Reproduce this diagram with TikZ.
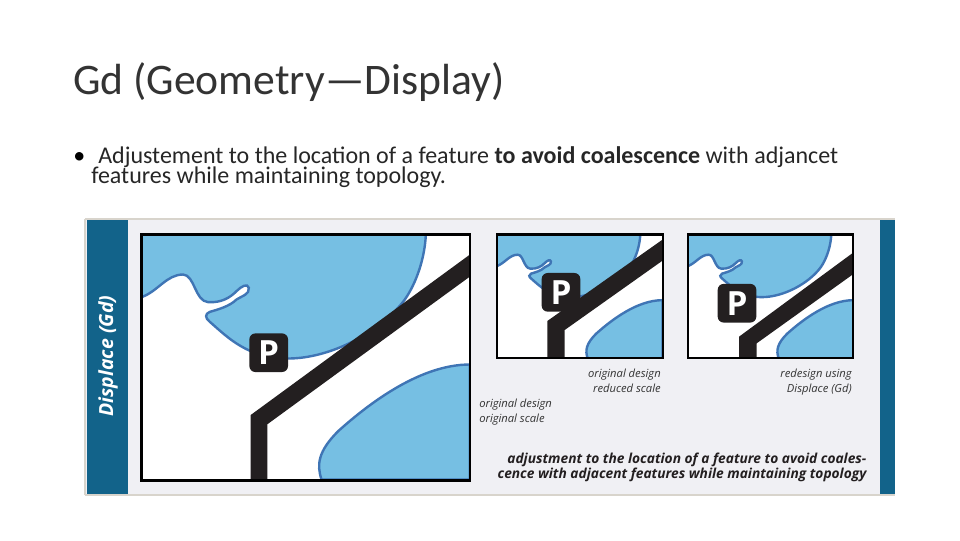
\documentclass[tikz,border=0pt]{standalone}
\usepackage{fontspec}
\setmainfont{Carlito}
\newfontfamily\figfont{Open Sans}
\usetikzlibrary{positioning}
\definecolor{waterblue}{HTML}{76BFE3}
\definecolor{coastblue}{HTML}{3F75B5}
\definecolor{barblue}{HTML}{12638A}
\definecolor{panelgrey}{HTML}{F0F0F4}
\definecolor{paneledge}{HTML}{D8D4CC}
\definecolor{roadblack}{HTML}{231F20}
\tikzset{
  water/.style={fill=waterblue,draw=coastblue,line width=1.8pt},
  road/.style={fill=roadblack},
  frame/.style={draw=black,line width=1.6pt},
  pbox/.style={fill=roadblack,rounded corners=4.5pt,minimum size=29pt,inner sep=0pt,
    text=white,font=\figfont\bfseries\fontsize{25}{25}\selectfont},
  note/.style={inner sep=0pt,font=\figfont\itshape\fontsize{8.4}{11.25}\selectfont,text=black!80},
  boldnote/.style={inner sep=0pt,anchor=east,font=\figfont\bfseries\itshape\fontsize{10.3}{11.25}\selectfont,text=roadblack},
}
% water shapes, drawn in a box of 985 by 735 units
\newcommand{\mapwater}[3]{
  \begin{scope}[shift={(#1,#2)},x=#3*.25pt,y=-#3*.25pt]
    \clip (0,0) rectangle (985,735);
    \draw[water] (0,188) .. controls (50,170) and (75,120) .. (125,120)
      .. controls (160,122) and (160,200) .. (200,203)
      .. controls (240,205) and (265,190) .. (285,170)
      .. controls (300,155) and (318,145) .. (322,160)
      .. controls (325,180) and (300,185) .. (285,195)
      .. controls (265,215) and (230,225) .. (205,232)
      .. controls (190,238) and (190,250) .. (205,262)
      .. controls (260,310) and (320,372) .. (440,372)
      .. controls (570,372) and (720,290) .. (790,195)
      .. controls (825,145) and (850,70) .. (853,0)
      -- (0,0) -- cycle;
    \draw[water] (540,735) .. controls (525,690) and (530,650) .. (590,590)
      .. controls (690,500) and (840,390) .. (985,390)
      -- (985,735) -- cycle;
  \end{scope}
}
\begin{document}
\begin{tikzpicture}[x=.75pt,y=-.75pt]
\useasboundingbox (0,0) rectangle (960,540);

\node[anchor=base west,inner sep=0pt,font=\fontsize{32.7}{32.7}\selectfont,text=black!80] (title) at (73,94) {Gd (Geometry—Display)};
\node[anchor=base west,inner sep=0pt,font=\fontsize{18}{18}\selectfont] (bullet) at (73,163) {•};
\node[anchor=base west,inner sep=0pt,font=\fontsize{18}{18}\selectfont,text=black!85] (lineone) at (98,163) {Adjustement to the location of a feature \textbf{to avoid coalescence} with adjancet};
\node[anchor=base west,inner sep=0pt,font=\fontsize{18}{18}\selectfont,text=black!85] (linetwo) at (91,183.5) {features while maintaining topology.};

\fill[panelgrey] (85,219) rectangle (895,495);
\draw[paneledge,line width=1pt] (85,219) -- (895,219);
\draw[paneledge,line width=1pt] (85,495) -- (895,495);
\draw[paneledge,line width=1pt] (85,219) -- (85,495);
\fill[barblue] (87,220) rectangle (128,494);
\fill[barblue] (880,220) rectangle (895,494);
\node[rotate=90,inner sep=0pt,text=white,font=\figfont\bfseries\itshape\fontsize{14.6}{14.6}\selectfont] (barlabel) at (108,356) {Displace (Gd)};

\fill[white] (141.5,234.5) rectangle (470,480.5);
\fill[white] (496.7,234.5) rectangle (662.7,357.7);
\fill[white] (687.7,234.5) rectangle (852.7,357.7);

\mapwater{141.5}{234.5}{1}
\mapwater{496.7}{234.5}{.505}
\mapwater{687.7}{234.5}{.505}

\fill[road] (250.7,415) -- (470,254.5) -- (470,276.5) -- (267.3,424.3) -- (267.3,480) -- (250.7,480) -- cycle;
\fill[road] (547.3,321) -- (662.7,239.5) -- (662.7,260.5) -- (564.7,330) -- (564.7,357.7) -- (547.3,357.7) -- cycle;
\fill[road] (739,336.7) -- (852.7,253) -- (852.7,274.5) -- (756.7,343.3) -- (756.7,357.7) -- (739,357.7) -- cycle;

\draw[frame] (141.5,234.5) rectangle (470,480.5);
\draw[frame] (496.7,234.5) rectangle (662.7,357.7);
\draw[frame] (687.7,234.5) rectangle (852.7,357.7);

\node[pbox] (pbig) at (268.7,352.7) {P};
\node[pbox] (psmall) at (561,292.3) {P};
\node[pbox] (pmoved) at (737,303.2) {P};

\node[note,anchor=north east,align=right] (reduced) at (661,368.5) {original design\\reduced scale};
\node[note,anchor=north east,align=right] (redesign) at (852,368.5) {redesign using\\Displace (Gd)};
\node[note,anchor=north west,align=left] (original) at (479,398.5) {original design\\original scale};
\node[boldnote] (captionone) at (866.7,459.5) {adjustment to the location of a feature to avoid coales-};
\node[boldnote] (captiontwo) at (866.7,474.5) {cence with adjacent features while maintaining topology};
\end{tikzpicture}
\end{document}
